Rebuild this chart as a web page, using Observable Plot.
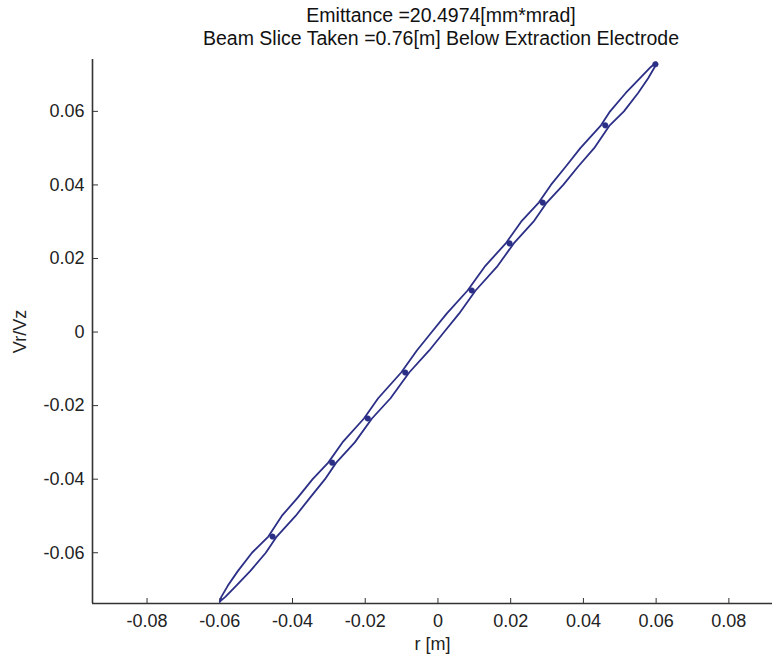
<!DOCTYPE html>
<html><head><meta charset="utf-8">
<script src="https://cdn.jsdelivr.net/npm/d3@7"></script>
<script src="https://cdn.jsdelivr.net/npm/@observablehq/plot@0.6"></script>
<style>
body{margin:0;background:#fff;font-family:"Liberation Sans",Arial,sans-serif;}
#title{width:772px;height:59px;box-sizing:border-box;padding-top:4px;padding-left:110px;text-align:center;font-size:19.5px;line-height:23px;color:#111;}
#chart svg{display:block;}
</style></head>
<body>
<div id="title"><div id="t1"></div><div id="t2"></div></div>
<div id="chart"></div>
<script>
const titleLines = ["Emittance =20.4974[mm*mrad]", "Beam Slice Taken =0.76[m] Below Extraction Electrode"];
const xLabel = "r [m]";
const yLabel = "Vr/Vz";
const xTicks = [-0.08, -0.06, -0.04, -0.02, 0, 0.02, 0.04, 0.06, 0.08];
const yTicks = [-0.06, -0.04, -0.02, 0, 0.02, 0.04, 0.06];
const xDomain = [-0.095, 0.092];
const yDomain = [-0.0738, 0.0741];

// left / upper edge of the emittance contour (bottom tip -> top tip)
const upperR  = [-0.0600,-0.05957,-0.05781,-0.05504,-0.05114,-0.04664,-0.04295,-0.03856,-0.03446,-0.03017,-0.02627,-0.02035,-0.01644,-0.01011,-0.00580,-0.0017,0.00240,0.00815,0.01304,0.01864,0.02287,0.02773,0.03106,0.03516,0.03915,0.04483,0.04734,0.05164,0.05551,0.05847,0.0600];
const upperVr = [-0.0733,-0.072,-0.069,-0.065,-0.060,-0.0556,-0.050,-0.045,-0.040,-0.0355,-0.030,-0.0235,-0.018,-0.011,-0.005,0,0.005,0.0113,0.018,0.0241,0.030,0.0352,0.040,0.045,0.050,0.0562,0.060,0.065,0.069,0.072,0.0733];
// right / lower edge (top tip -> bottom tip)
const lowerR  = [0.0600,0.05957,0.05781,0.05504,0.05114,0.04723,0.04295,0.03856,0.03446,0.02993,0.02627,0.02084,0.01644,0.01035,0.00580,0.0017,-0.00240,-0.00791,-0.01304,-0.01815,-0.02287,-0.02797,-0.03106,-0.03516,-0.03915,-0.04434,-0.04734,-0.05164,-0.05551,-0.05847,-0.0600];
const lowerVr = [0.0733,0.072,0.069,0.065,0.060,0.0562,0.050,0.045,0.040,0.0352,0.030,0.0241,0.018,0.0113,0.005,0,-0.005,-0.011,-0.018,-0.0235,-0.030,-0.0355,-0.040,-0.045,-0.050,-0.0556,-0.060,-0.065,-0.069,-0.072,-0.0733];
// contour label positions
const labelR  = [-0.0455,-0.0291,-0.0193,-0.0090,0.0093,0.0197,0.0288,0.0460,0.0598];
const labelVr = [-0.0556,-0.0355,-0.0235,-0.011,0.0113,0.0241,0.0352,0.0562,0.0728];

document.getElementById("t1").textContent = titleLines[0];
document.getElementById("t2").textContent = titleLines[1];

const contour = [
  ...upperR.map((r, i) => ({r, vr: upperVr[i]})),
  ...lowerR.map((r, i) => ({r, vr: lowerVr[i]}))
];
const labels = labelR.map((r, i) => ({r, vr: labelVr[i]}));

const fmt = d => d === 0 ? "0" : String(d);
const ink = "#2b2f86";

const plot = Plot.plot({
  width: 772,
  height: 603,
  marginTop: 0,
  marginLeft: 92,
  marginRight: 0,
  marginBottom: 59,
  style: {fontFamily: "'Liberation Sans', Arial, sans-serif", fontSize: "18px", color: "#222", background: "#fff"},
  x: {domain: xDomain},
  y: {domain: yDomain},
  marks: [
    Plot.ruleX([xDomain[0]], {stroke: "#333", strokeWidth: 1.6}),
    Plot.ruleY([yDomain[0]], {stroke: "#333", strokeWidth: 1.6}),
    Plot.axisX({ticks: xTicks, tickFormat: fmt, tickSize: -5, tickPadding: 16, label: xLabel, labelAnchor: "center", labelOffset: 46, labelArrow: "none", stroke: "#333"}),
    Plot.axisY({ticks: yTicks, tickFormat: fmt, tickSize: -6, tickPadding: 14, label: yLabel, labelAnchor: "center", labelOffset: 79, labelArrow: "none", stroke: "#333"}),
    Plot.line(contour, {x: "r", y: "vr", stroke: ink, strokeWidth: 1.8, curve: "linear"}),
    Plot.dot(labels, {x: "r", y: "vr", r: 2.8, fill: ink, stroke: ink, strokeWidth: 0.5})
  ]
});
document.getElementById("chart").appendChild(plot);
</script>
</body></html>
